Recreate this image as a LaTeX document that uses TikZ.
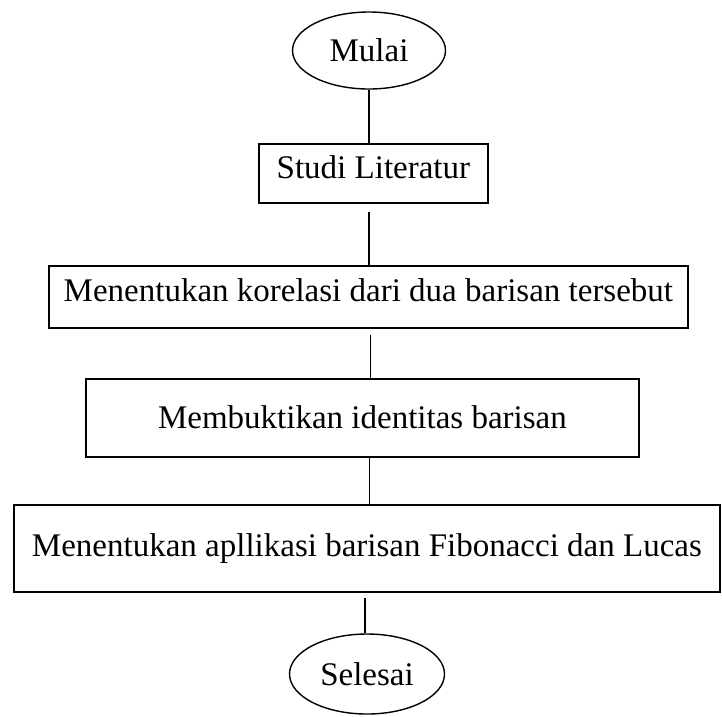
\documentclass[tikz,border=0pt]{standalone}
\usepackage{fontspec}
\setmainfont{Liberation Serif}
\usetikzlibrary{shapes.geometric}
\begin{document}
\begin{tikzpicture}[x=1pt,y=-1pt,
  every node/.style={font=\fontsize{33}{40}\selectfont, inner sep=0pt},
  terminal/.style={ellipse, draw, line width=1.4pt, minimum width=153pt, minimum height=77pt},
  procbox/.style={rectangle, draw, line width=1.8pt, anchor=north west},
  link/.style={line width=1.3pt}]
\useasboundingbox (0,0) rectangle (722,716);
\node[terminal] (mulai) at (369,50.5) {Mulai};
\node[procbox, minimum width=229pt, text height=34.5pt, text depth=24.5pt] (studi) at (258,143) {Studi Literatur};
\node[procbox, minimum width=639pt, text height=36pt, text depth=26pt] (korelasi) at (48,265) {Menentukan korelasi dari dua barisan tersebut};
\node[procbox, minimum width=553pt, text height=49.5pt, text depth=28.5pt] (identitas) at (85,378) {Membuktikan identitas barisan};
\node[procbox, minimum width=706pt, text height=52pt, text depth=35pt] (aplikasi) at (13,504) {Menentukan apllikasi barisan Fibonacci dan Lucas};
\node[terminal, minimum width=155pt, minimum height=80pt] (selesai) at (367,674) {Selesai};
\draw[link] (mulai.south) -- (mulai.south |- studi.north);
\draw[link] ([xshift=-4.5pt,yshift=-8pt]studi.south) -- ([xshift=-4.5pt]studi.south |- korelasi.north);
\draw[link] ([xshift=2pt,yshift=-6pt]korelasi.south) -- ([xshift=2pt]korelasi.south |- identitas.north);
\draw[link] ([xshift=7pt]identitas.south) -- ([xshift=7pt]identitas.south |- aplikasi.north);
\draw[link] ([xshift=-2pt,yshift=-5pt]aplikasi.south) -- ([xshift=-2pt]aplikasi.south |- selesai.north);
\end{tikzpicture}
\end{document}
